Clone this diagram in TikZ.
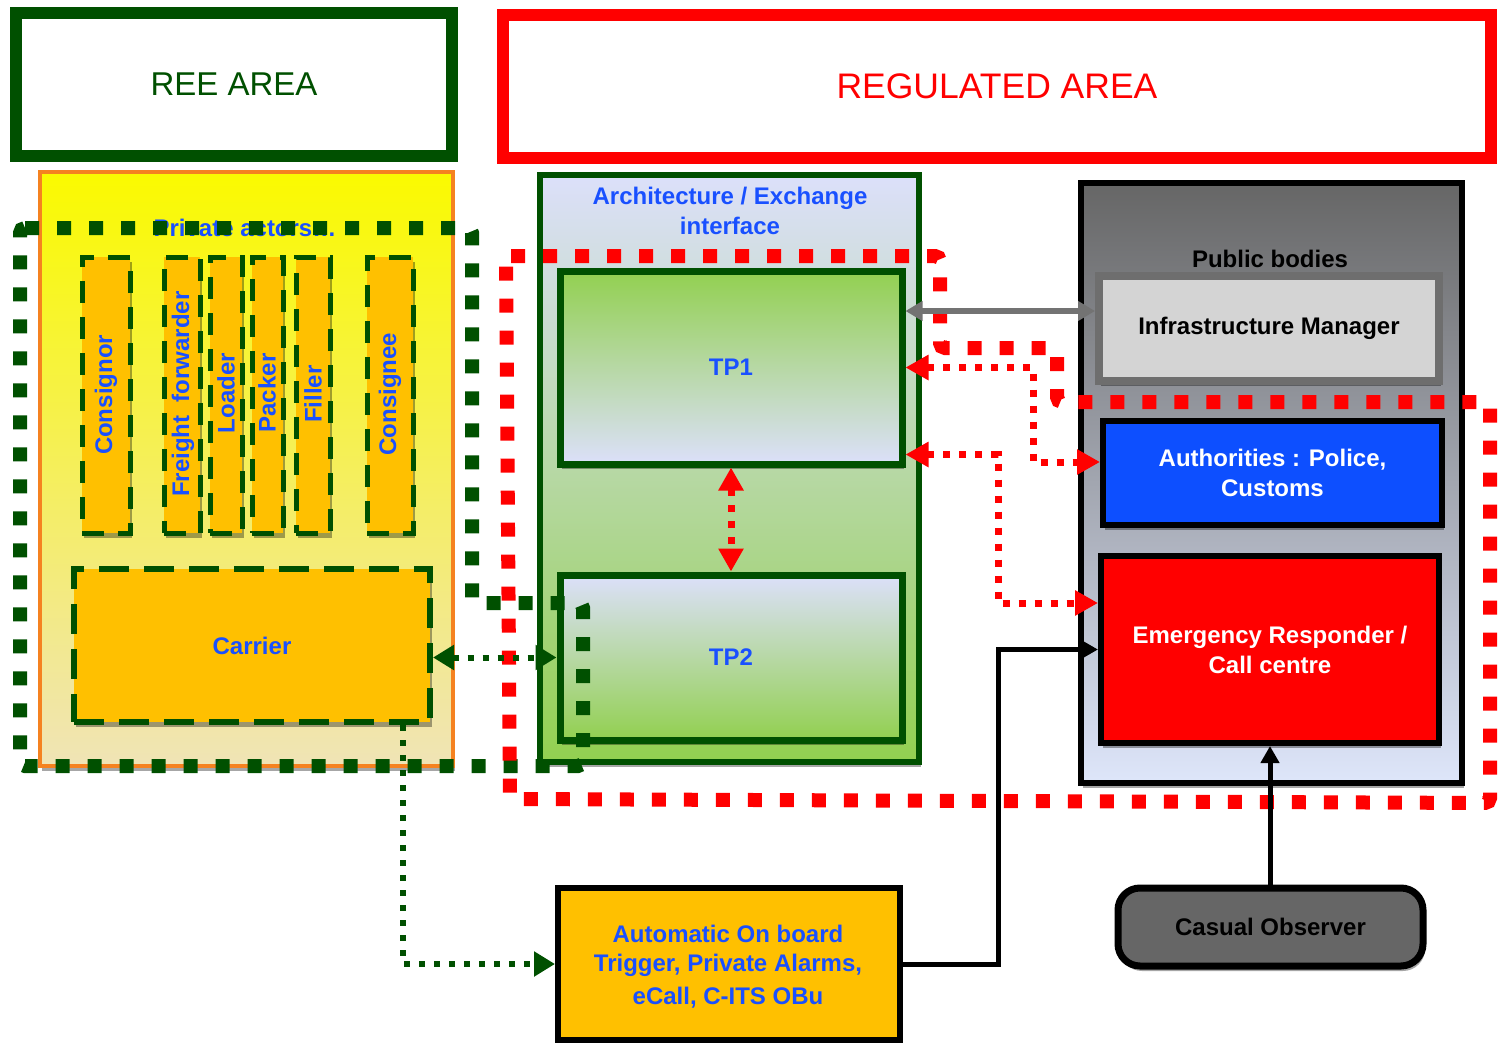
\documentclass[tikz,border=0pt]{standalone}
\usepackage{fontspec}
\setmainfont{Liberation Sans}
\usetikzlibrary{arrows.meta,shadows}
\definecolor{dkgreen}{RGB}{0,80,0}
\definecolor{blu}{RGB}{25,80,255}
\definecolor{gold}{RGB}{255,192,0}
\definecolor{orng}{RGB}{245,130,32}
\definecolor{lav}{RGB}{220,224,250}
\definecolor{lgreen}{RGB}{146,208,80}
\definecolor{grayarr}{RGB}{115,115,115}
\definecolor{authblue}{RGB}{13,79,255}
\definecolor{darkgr}{RGB}{102,102,102}
\definecolor{pubbot}{RGB}{222,230,250}
\definecolor{imfill}{RGB}{212,212,212}
\definecolor{imdraw}{RGB}{110,110,110}
\definecolor{yel}{RGB}{250,250,0}
\definecolor{yelmid}{RGB}{232,222,80}
\definecolor{beige}{RGB}{240,228,182}
\newcommand\mylbl{\fontsize{24}{30}\selectfont\bfseries}
\tikzset{
  rtip/.tip={Triangle[length=23pt,width=24pt]},
  gtip/.tip={Triangle[length=21pt,width=24pt]},
  btip/.tip={Triangle[length=17pt,width=18pt]},
  ytip/.tip={Triangle[length=17pt,width=19pt]},
}
\begin{document}
\begin{tikzpicture}[x=1pt,y=-1pt,
  box/.style={draw, rectangle, inner sep=0pt, align=center, font=\mylbl},
  sh/.style={drop shadow={shadow xshift=2pt,shadow yshift=-5pt,fill=black,opacity=0.35}},
  smallbox/.style={box, draw=dkgreen, line width=5pt, dash pattern=on 22pt off 14pt, fill=gold, minimum height=276pt, sh},
  vtext/.style={rotate=90, text=blu, font=\mylbl, inner sep=0pt},
  greenreg/.style={draw=dkgreen, line width=14pt, dash pattern=on 14pt off 18pt, rounded corners=5pt},
  redreg/.style={draw=red, line width=14pt, dash pattern=on 14pt off 18pt, rounded corners=5pt},
  redcon/.style={draw=red, line width=7pt, dash pattern=on 7pt off 9pt},
  greencon/.style={draw=dkgreen, line width=6pt, dash pattern=on 6pt off 9pt},
  blackcon/.style={draw=black, line width=5pt},
  graycon/.style={draw=grayarr, line width=6pt},
]
\useasboundingbox (0,0) rectangle (1500,1044);

% area titles
\node[box, draw=dkgreen, line width=12pt, minimum width=436pt, minimum height=143pt,
      font=\fontsize{33}{40}\selectfont, text=dkgreen] (ree) at (234,84.5) {REE AREA};
\node[box, draw=red, line width=12pt, minimum width=988pt, minimum height=143pt,
      font=\fontsize{35.5}{42}\selectfont, text=red] (reg) at (997,86) {REGULATED AREA};

% private actors
\node[box, draw=orng, line width=4pt, minimum width=413pt, minimum height=594pt,
      top color=yel, middle color=yelmid, bottom color=beige, sh] (priv) at (246.5,469) {};
\node[text=blu, font=\mylbl, inner sep=0pt] (privlbl) at (245,228) {Private actors…};

\node[smallbox, minimum width=48pt] (consignor) at (106,395) {};
\node[smallbox, minimum width=36pt] (ff) at (182,395) {};
\node[smallbox, minimum width=32pt] (loader) at (226,395) {};
\node[smallbox, minimum width=31pt] (packer) at (267.5,395) {};
\node[smallbox, minimum width=34pt] (filler) at (313,395) {};
\node[smallbox, minimum width=46pt] (consignee) at (390,395) {};
\node[vtext] (tconsignor) at (106,395) {Consignor};
\node[vtext] (tff) at (183,394) {Freight\ \ forwarder};
\node[vtext] (tloader) at (226,393) {Loader};
\node[vtext] (tpacker) at (267,393) {Packer};
\node[vtext] (tfiller) at (313,394) {Filler};
\node[vtext] (tconsignee) at (390,394) {Consignee};

\node[box, draw=dkgreen, line width=6pt, dash pattern=on 30pt off 15pt, fill=gold,
      minimum width=356pt, minimum height=153pt, text=blu, sh] (carrier) at (252,645.5) {Carrier};

% architecture
\node[box, draw=dkgreen, line width=6pt, minimum width=379pt, minimum height=587pt,
      top color=lav, bottom color=lgreen, sh] (arch) at (729.5,468.5) {};
\node[align=center, text=blu, font=\mylbl, inner sep=0pt] (archlbl) at (730,211)
      {Architecture / Exchange\\interface};
\node[box, draw=dkgreen, line width=7pt, minimum width=342pt, minimum height=193pt,
      top color=lgreen, bottom color=lav, text=blu, sh] (tp1) at (731,367.5) {TP1};
\node[box, draw=dkgreen, line width=7pt, minimum width=342pt, minimum height=165pt,
      top color=lav, bottom color=lgreen, text=blu, sh] (tp2) at (731,657.5) {TP2};

% public bodies
\node[box, draw=black, line width=6pt, minimum width=381pt, minimum height=600pt,
      top color=darkgr, bottom color=pubbot, sh] (pub) at (1271.5,483) {};
\node[font=\mylbl, inner sep=0pt] (publbl) at (1270,259) {Public bodies};
\node[box, draw=imdraw, line width=8pt, fill=imfill, minimum width=340pt, minimum height=105pt, sh]
      (im) at (1269,328.5) {Infrastructure Manager};
\node[box, draw=black, line width=6pt, fill=authblue, text=white, minimum width=339pt,
      minimum height=104pt, sh] (auth) at (1272.5,473) {Authorities : Police,\\Customs};
\node[box, draw=black, line width=6pt, fill=red, text=white, minimum width=338pt,
      minimum height=187pt, sh] (emer) at (1270,649.5) {Emergency Responder /\\Call centre};

% bottom boxes
\node[box, draw=black, line width=6pt, fill=gold, minimum width=342pt,
      minimum height=152pt] (auto) at (729,964) {};
\node[align=center, text=blu, font=\mylbl, inner sep=0pt] (autotxt) at (728,967)
      {Automatic On board\\[-1pt]Trigger, Private Alarms,\\[3pt]eCall, C-ITS OBu};
\node[box, draw=black, line width=7pt, fill=darkgr, rounded corners=22pt, minimum width=305pt,
      minimum height=78pt, sh] (casual) at (1270.5,927) {Casual Observer};

% dotted regions
\draw[greenreg] (20,228) -- (472,228) -- (472,603) -- (583,603) -- (583,766) -- (20,766) -- cycle;
\draw[redreg] (506,256) -- (940,256) -- (940,348) -- (1057,348) -- (1057,402) -- (1490,402)
      -- (1490,803) -- (510,799) -- cycle;

% connectors
\coordinate (gy) at (0,311);
\draw[graycon, ytip-ytip] (tp1.east |- gy) -- (im.west |- gy);

\coordinate (r1) at (1033,462);
\draw[redcon, rtip-rtip] (tp1.east) -| (r1) -- ([yshift=11pt]auth.west);
\coordinate (r2) at (998,603);
\draw[redcon, rtip-rtip] ([yshift=13pt]tp1.south east) -| (r2) -- ([yshift=46.5pt]emer.west);
\draw[redcon, rtip-rtip] (tp1.south) -- (tp2.north);

\coordinate (b1) at (998,648);
\draw[blackcon, -btip] (auto.east) -| (b1 |- emer.west) -- (emer.west);
\draw[blackcon, -btip] (casual.north -| emer.south) -- (emer.south);

\draw[greencon, gtip-gtip] (carrier.east |- tp2.west) -- (tp2.west);
\draw[greencon, -gtip] ([xshift=-30pt]carrier.south east) |- (auto.west);
\end{tikzpicture}
\end{document}
